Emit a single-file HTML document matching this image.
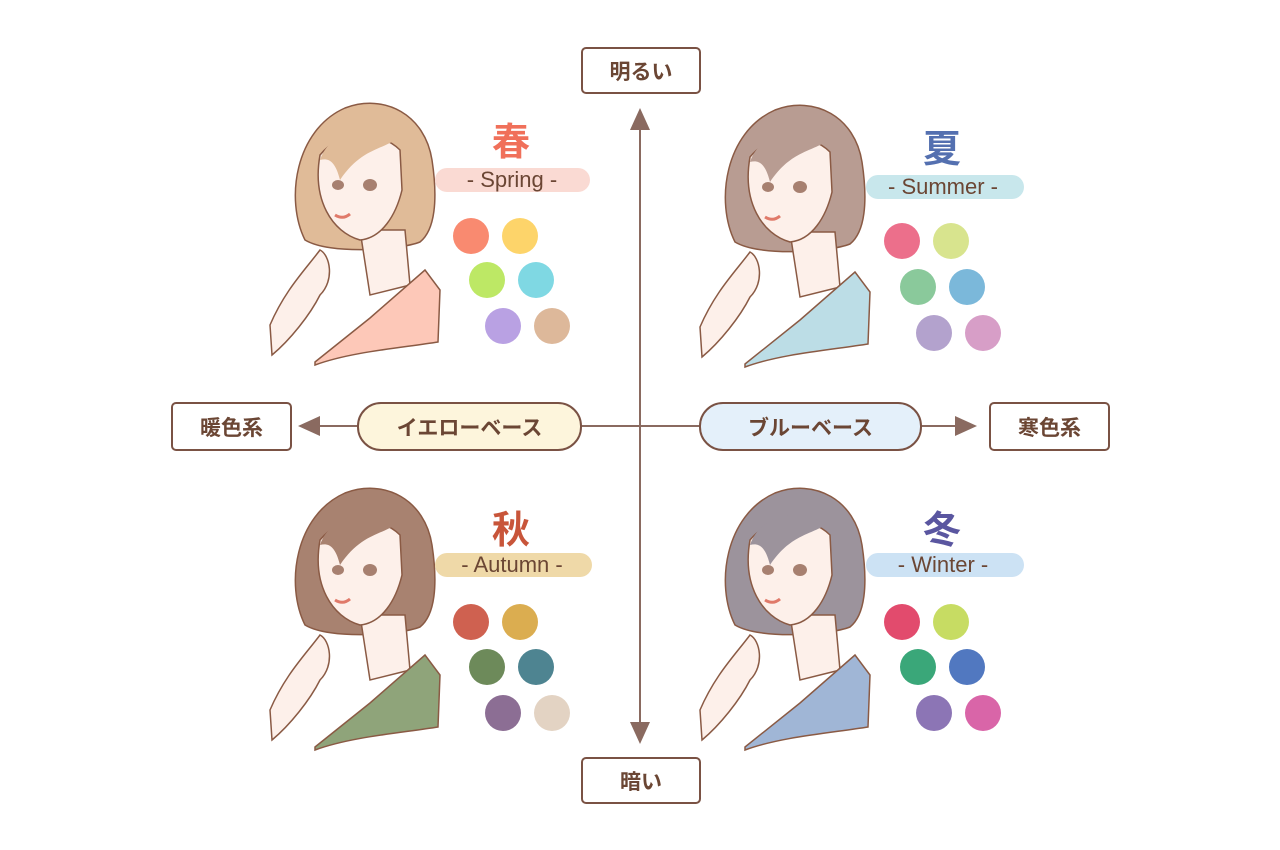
<!DOCTYPE html>
<html><head><meta charset="utf-8"><style>
html,body{margin:0;padding:0;background:#fff;width:1280px;height:850px;overflow:hidden;font-family:"Liberation Sans","Noto Sans CJK JP",sans-serif;}
.box{position:absolute;border:2px solid #7a5244;border-radius:5px;background:#fff;color:#6b4634;font-weight:bold;font-size:21px;display:flex;align-items:center;justify-content:center;box-sizing:border-box;}
.pill{position:absolute;border:2px solid #7a5244;border-radius:24px;color:#6b4634;font-weight:bold;font-size:21px;display:flex;align-items:center;justify-content:center;box-sizing:border-box;}
.kan{position:absolute;font-size:38px;font-weight:bold;width:80px;text-align:center;}
.en{position:absolute;font-size:22px;color:#6b4634;width:160px;text-align:center;}
</style></head><body>
<svg width="1280" height="850" style="position:absolute;left:0;top:0">
<defs>
<g id="w">
 <path d="M45,150 C25,110 35,40 85,18 C125,3 165,25 172,70 C178,110 175,140 160,152 C140,160 70,165 45,150Z" fill="var(--h)" stroke="#8a5a44" stroke-width="1.5"/>
 <path d="M100,140 L145,140 L150,195 L110,205Z" fill="#fdf0ea" stroke="#8a5a44" stroke-width="1.5"/>
 <path d="M60,65 C52,110 72,142 100,150 C122,148 136,125 142,100 L140,60 C120,40 80,40 60,65Z" fill="#fdf0ea" stroke="#8a5a44" stroke-width="1.5"/>
 <path d="M60,70 C70,40 110,30 135,50 C120,60 100,60 80,90 C75,70 68,68 60,70Z" fill="var(--h)"/>
 <ellipse cx="78" cy="95" rx="6" ry="5" fill="#a78070"/><ellipse cx="110" cy="95" rx="7" ry="6" fill="#a78070"/>
 <path d="M75,125 Q83,130 90,124" stroke="#e07a6a" stroke-width="3" fill="none"/>
 <path d="M55,272 L110,228 L165,180 L180,200 L178,252 C140,258 90,262 55,275Z" fill="var(--s)" stroke="#8a5a44" stroke-width="1.5"/>
 <path d="M10,235 C25,200 45,180 60,160 C70,165 75,190 60,205 C50,225 30,250 12,265Z" fill="#fdf0ea" stroke="#8a5a44" stroke-width="1.5"/>
</g>
</defs>
<use href="#w" x="260" y="90" style="--h:#e0bb98;--s:#fdc8b8"/>
<use href="#w" x="690" y="92" style="--h:#b89c92;--s:#bcdde6"/>
<use href="#w" x="260" y="475" style="--h:#a88270;--s:#8fa47a"/>
<use href="#w" x="690" y="475" style="--h:#9c939c;--s:#a0b6d6"/>
<line x1="640" y1="125" x2="640" y2="727" stroke="#8a6a60" stroke-width="2"/>
<polygon points="640,108 630,130 650,130" fill="#8a6a60"/>
<polygon points="640,744 630,722 650,722" fill="#8a6a60"/>
<line x1="315" y1="426" x2="960" y2="426" stroke="#8a6a60" stroke-width="2"/>
<polygon points="298,426 320,416 320,436" fill="#8a6a60"/>
<polygon points="977,426 955,416 955,436" fill="#8a6a60"/>
<g>
<rect x="435" y="168" width="155" height="24" rx="12" fill="#fadad3"/>
<rect x="866" y="175" width="158" height="24" rx="12" fill="#c8e7ec"/>
<rect x="435" y="553" width="157" height="24" rx="12" fill="#efd9a8"/>
<rect x="866" y="553" width="158" height="24" rx="12" fill="#cce2f4"/>
</g>
<g>
<circle cx="471" cy="236" r="18" fill="#f98a70"/><circle cx="520" cy="236" r="18" fill="#fdd46a"/>
<circle cx="487" cy="280" r="18" fill="#bde865"/><circle cx="536" cy="280" r="18" fill="#7fd8e3"/>
<circle cx="503" cy="326" r="18" fill="#b9a1e3"/><circle cx="552" cy="326" r="18" fill="#ddb89a"/>
<circle cx="902" cy="241" r="18" fill="#ec6f8b"/><circle cx="951" cy="241" r="18" fill="#d8e48e"/>
<circle cx="918" cy="287" r="18" fill="#8ac99b"/><circle cx="967" cy="287" r="18" fill="#7bb8da"/>
<circle cx="934" cy="333" r="18" fill="#b3a2cd"/><circle cx="983" cy="333" r="18" fill="#d79ec7"/>
<circle cx="471" cy="622" r="18" fill="#cf6150"/><circle cx="520" cy="622" r="18" fill="#dbad50"/>
<circle cx="487" cy="667" r="18" fill="#6d8a5a"/><circle cx="536" cy="667" r="18" fill="#4e8491"/>
<circle cx="503" cy="713" r="18" fill="#8c6e94"/><circle cx="552" cy="713" r="18" fill="#e3d3c3"/>
<circle cx="902" cy="622" r="18" fill="#e24b6d"/><circle cx="951" cy="622" r="18" fill="#c7dc63"/>
<circle cx="918" cy="667" r="18" fill="#3aa779"/><circle cx="967" cy="667" r="18" fill="#5178c0"/>
<circle cx="934" cy="713" r="18" fill="#8c75b5"/><circle cx="983" cy="713" r="18" fill="#d965a8"/>
</g>
</svg>
<div class="box" style="left:581px;top:47px;width:120px;height:47px">明るい</div>
<div class="box" style="left:581px;top:757px;width:120px;height:47px">暗い</div>
<div class="box" style="left:171px;top:402px;width:121px;height:49px">暖色系</div>
<div class="box" style="left:989px;top:402px;width:121px;height:49px">寒色系</div>
<div class="pill" style="left:357px;top:402px;width:225px;height:49px;background:#fdf5dc">イエローベース</div>
<div class="pill" style="left:699px;top:402px;width:223px;height:49px;background:#e4f0fa">ブルーベース</div>
<div class="kan" style="left:471px;top:111px;color:#f0705a">春</div>
<div class="kan" style="left:902px;top:118px;color:#5470b0">夏</div>
<div class="kan" style="left:471px;top:499px;color:#c8553a">秋</div>
<div class="kan" style="left:902px;top:499px;color:#5a56a0">冬</div>
<div class="en" style="left:432px;top:167px">- Spring -</div>
<div class="en" style="left:863px;top:174px">- Summer -</div>
<div class="en" style="left:432px;top:552px">- Autumn -</div>
<div class="en" style="left:863px;top:552px">- Winter -</div>
</body></html>
